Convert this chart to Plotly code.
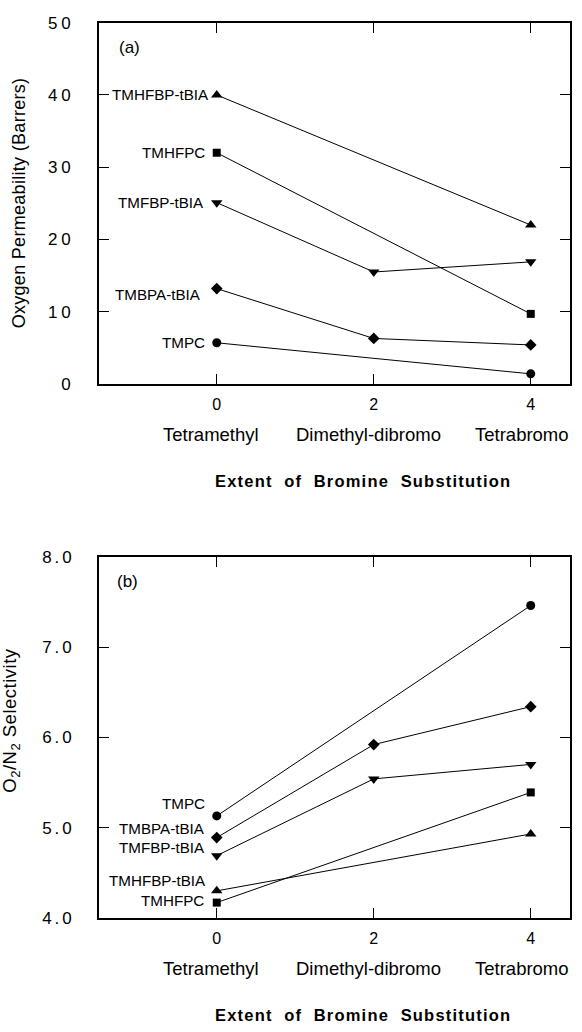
import plotly.graph_objects as go

# Extent of bromine substitution (number of Br atoms on the bisphenol ring)
substitution = [0, 2, 4]
sub_tick_text = ["0", "2", "4"]
sub_names = ["Tetramethyl", "Dimethyl-dibromo", "Tetrabromo"]

polymers = ["TMHFBP-tBIA", "TMHFPC", "TMFBP-tBIA", "TMBPA-tBIA", "TMPC"]
symbols = ["triangle-up", "square", "triangle-down", "diamond", "circle"]

# Oxygen permeability (Barrers); None = not measured
perm_tmhfbp_tbia = [40.0, None, 22.0]
perm_tmhfpc = [32.0, None, 9.7]
perm_tmfbp_tbia = [25.1, 15.5, 16.9]
perm_tmbpa_tbia = [13.2, 6.3, 5.4]
perm_tmpc = [5.7, None, 1.4]

# O2/N2 selectivity
sel_tmhfbp_tbia = [4.30, None, 4.93]
sel_tmhfpc = [4.17, None, 5.39]
sel_tmfbp_tbia = [4.69, 5.54, 5.70]
sel_tmbpa_tbia = [4.89, 5.92, 6.34]
sel_tmpc = [5.13, None, 7.46]

perm_ticks = [0, 10, 20, 30, 40, 50]
sel_ticks = [4.0, 5.0, 6.0, 7.0, 8.0]

perm_series = [perm_tmhfbp_tbia, perm_tmhfpc, perm_tmfbp_tbia, perm_tmbpa_tbia, perm_tmpc]
sel_series = [sel_tmhfbp_tbia, sel_tmhfpc, sel_tmfbp_tbia, sel_tmbpa_tbia, sel_tmpc]

FONT = "Liberation Sans, Arial, Helvetica, sans-serif"
marker_sizes = {"triangle-up": 10, "square": 8, "triangle-down": 10,
                "diamond": 9, "circle": 9}

fig = go.Figure()

for name, sym, ys in zip(polymers, symbols, perm_series):
    fig.add_trace(go.Scatter(
        x=substitution, y=ys, name=name, mode="lines+markers",
        connectgaps=True, xaxis="x", yaxis="y",
        line=dict(color="black", width=1),
        marker=dict(symbol=sym, size=marker_sizes[sym], color="black"),
        showlegend=False))

for name, sym, ys in zip(polymers, symbols, sel_series):
    fig.add_trace(go.Scatter(
        x=substitution, y=ys, name=name, mode="lines+markers",
        connectgaps=True, xaxis="x2", yaxis="y2",
        line=dict(color="black", width=1),
        marker=dict(symbol=sym, size=marker_sizes[sym], color="black"),
        showlegend=False))


def spaced(s, px):
    return f'<span style="letter-spacing:{px}px">{s}</span>'


x_common = dict(
    range=[-1.5, 4.5], domain=[99 / 582, 570 / 582],
    tickmode="array", tickvals=substitution, ticktext=sub_tick_text,
    ticks="inside", ticklen=10, tickwidth=1.2, tickcolor="black",
    showline=True, linecolor="black", linewidth=1.6, mirror="ticks",
    showgrid=False, zeroline=False, ticklabelstandoff=5,
    tickfont=dict(family=FONT, size=16, color="black"))

y_common = dict(
    ticks="inside", ticklen=10, tickwidth=1.2, tickcolor="black",
    showline=True, linecolor="black", linewidth=1.6, mirror="ticks",
    showgrid=False, zeroline=False, ticklabelstandoff=19,
    tickfont=dict(family=FONT, size=17, color="black"))

fig.update_layout(
    width=582, height=1032,
    margin=dict(l=0, r=0, t=0, b=0),
    paper_bgcolor="white", plot_bgcolor="white",
    font=dict(family=FONT, color="black"),
    xaxis=dict(anchor="y", **x_common),
    yaxis=dict(anchor="x", range=[0, 50], domain=[1 - 382 / 1032, 1 - 14 / 1032],
               tickmode="array", tickvals=perm_ticks,
               ticktext=[spaced(str(v), 4) for v in perm_ticks], **y_common),
    xaxis2=dict(anchor="y2", **x_common),
    yaxis2=dict(anchor="x2", range=[4, 8], domain=[1 - 926 / 1032, 1 - 558 / 1032],
                tickmode="array", tickvals=sel_ticks,
                ticktext=[spaced(f"{v:.1f}", 3) for v in sel_ticks], **y_common),
)

ann = []

# Polymer labels beside the first point of every series
perm_label_shift = {"TMHFBP-tBIA": (-6, 0), "TMHFPC": (-10, 0), "TMFBP-tBIA": (-11, 0),
                    "TMBPA-tBIA": (-14, -6), "TMPC": (-10, 0)}
sel_label_shift = {"TMHFBP-tBIA": (-9, 10), "TMHFPC": (-11, 2), "TMFBP-tBIA": (-10, 8),
                   "TMBPA-tBIA": (-10, 9), "TMPC": (-10, 12)}
for name, ys in zip(polymers, perm_series):
    dx, dy = perm_label_shift[name]
    ann.append(dict(x=substitution[0], y=ys[0], xref="x", yref="y", text=name,
                    showarrow=False, xanchor="right", yanchor="middle",
                    xshift=dx, yshift=dy, font=dict(family=FONT, size=15.2)))
for name, ys in zip(polymers, sel_series):
    dx, dy = sel_label_shift[name]
    ann.append(dict(x=substitution[0], y=ys[0], xref="x2", yref="y2", text=name,
                    showarrow=False, xanchor="right", yanchor="middle",
                    xshift=dx, yshift=dy, font=dict(family=FONT, size=15.2)))

cat_shift = [-6, -5, -9]
for xr, yr in (("x", "y domain"), ("x2", "y2 domain")):
    for xv, lab, sh in zip(substitution, sub_names, cat_shift):
        ann.append(dict(x=xv, y=0, xref=xr, yref=yr, text=lab, showarrow=False,
                        xanchor="center", yanchor="middle", xshift=sh, yshift=-51,
                        font=dict(family=FONT, size=18.5)))
    ann.append(dict(x=0.5605, y=0, xref=xr + " domain", yref=yr,
                    text=spaced("<b>Extent  of  Bromine  Substitution</b>", 1.2),
                    showarrow=False, xanchor="center", yanchor="middle", yshift=-97,
                    font=dict(family=FONT, size=16.5)))

# Panel tags
ann.append(dict(x=117, y=39, xref="paper", yref="paper", text="(a)", showarrow=False,
                xanchor="left", yanchor="middle", font=dict(family=FONT, size=17)))
ann.append(dict(x=115, y=583, xref="paper", yref="paper", text="(b)", showarrow=False,
                xanchor="left", yanchor="middle", font=dict(family=FONT, size=17)))

# Y axis titles
ann.append(dict(x=19, y=198, xref="paper", yref="paper",
                text=spaced("Oxygen Permeability (Barrers)", 0.3),
                showarrow=False, textangle=-90, xanchor="center", yanchor="middle",
                font=dict(family=FONT, size=18)))
ann.append(dict(x=11, y=725, xref="paper", yref="paper",
                text=spaced("O<sub>2</sub>/N<sub>2</sub> Selectivity", 0.5),
                showarrow=False, textangle=-90, xanchor="center", yanchor="middle",
                font=dict(family=FONT, size=18.5)))

# convert pixel-placed annotations to paper fractions
for a in ann:
    if a["xref"] == "paper":
        a["x"] = a["x"] / 582
        a["y"] = 1 - a["y"] / 1032

fig.update_layout(annotations=ann)

fig.write_html("out.html")
